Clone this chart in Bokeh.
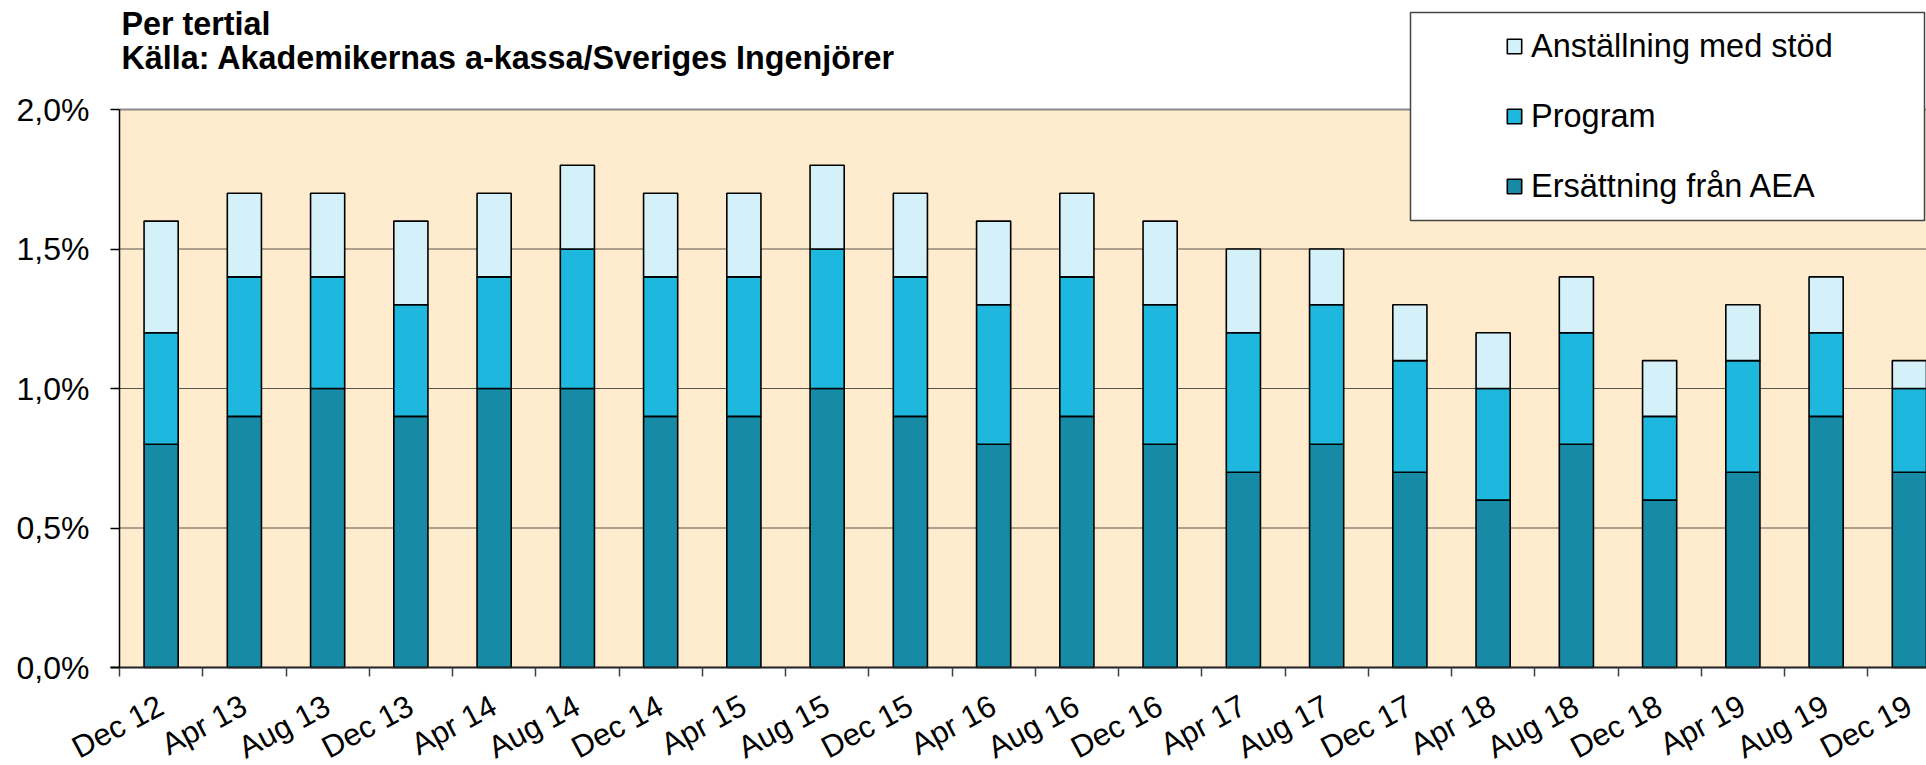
import math
from bokeh.plotting import figure
from bokeh.models import (ColumnDataSource, FixedTicker, CustomJSTickFormatter, Legend,
                          LegendItem, Range1d, Label, BoxAnnotation)
from bokeh.embed import file_html
from bokeh.resources import INLINE

# ---------------- data ----------------
periods = ["Dec 12", "Apr 13", "Aug 13", "Dec 13", "Apr 14", "Aug 14", "Dec 14",
           "Apr 15", "Aug 15", "Dec 15", "Apr 16", "Aug 16", "Dec 16", "Apr 17",
           "Aug 17", "Dec 17", "Apr 18", "Aug 18", "Dec 18", "Apr 19", "Aug 19", "Dec 19"]
aea = [0.8, 0.9, 1.0, 0.9, 1.0, 1.0, 0.9, 0.9, 1.0, 0.9, 0.8,
       0.9, 0.8, 0.7, 0.8, 0.7, 0.6, 0.8, 0.6, 0.7, 0.9, 0.7]
program = [0.4, 0.5, 0.4, 0.4, 0.4, 0.5, 0.5, 0.5, 0.5, 0.5, 0.5,
           0.5, 0.5, 0.5, 0.5, 0.4, 0.4, 0.4, 0.3, 0.4, 0.3, 0.3]
stod = [0.4, 0.3, 0.3, 0.3, 0.3, 0.3, 0.3, 0.3, 0.3, 0.3, 0.3,
        0.3, 0.3, 0.3, 0.2, 0.2, 0.2, 0.2, 0.2, 0.2, 0.2, 0.1]
series_names = ["Ersättning från AEA", "Program", "Anställning med stöd"]
y_ticks = [0.0, 0.5, 1.0, 1.5, 2.0]
title_lines = ["Per tertial", "Källa: Akademikernas a-kassa/Sveriges Ingenjörer"]

# ---------------- layout constants (canvas px) ----------------
W, H = 1926, 765
AREA_LEFT = 119           # canvas x of the plot-area left edge
ZERO_Y = 667              # canvas y of 0 %
CAT_PX = 83.25            # px per category
Y_PX = 279.0              # px per 1 %-unit
area_x0 = -0.5
x_start = area_x0 - AREA_LEFT / CAT_PX
x_end = area_x0 + (W - AREA_LEFT) / CAT_PX
y_end = ZERO_Y / Y_PX
y_start = -(H - ZERO_Y) / Y_PX


def px2x(px):
    return area_x0 + (px - AREA_LEFT) / CAT_PX


def px2y(py):
    return (ZERO_Y - py) / Y_PX


FONT = "Liberation Sans"
C_AEA = "#178BA6"
C_PROG = "#1EB8DE"
C_STOD = "#D4F0F8"
C_BG = "#FFEBCD"

src = ColumnDataSource(dict(x=list(range(len(periods))), label=periods,
                            aea=aea, program=program, stod=stod))

p = figure(width=W, height=H, output_backend="svg", toolbar_location=None,
           x_range=Range1d(x_start, x_end), y_range=Range1d(y_start, y_end),
           min_border_left=0, min_border_right=0, min_border_top=0,
           min_border_bottom=0)
p.outline_line_color = None
p.background_fill_color = "white"
p.border_fill_color = "white"
p.xgrid.visible = False
p.ygrid.visible = False

# plot area background (0 .. 2.0 %)
p.quad(left=[area_x0], right=[x_end + 1], bottom=[y_ticks[0]], top=[y_ticks[-1]],
       fill_color=C_BG, line_color=None)

# grid lines
inner = y_ticks[1:-1]
p.segment(x0=[area_x0] * len(inner), x1=[x_end + 1] * len(inner), y0=inner, y1=inner,
          line_color="#5a554c", line_width=1.2)
p.segment(x0=[area_x0], x1=[x_end + 1], y0=[y_ticks[-1]], y1=[y_ticks[-1]],
          line_color="#8a8a8a", line_width=2)

# stacked bars
rs = p.vbar_stack(["aea", "program", "stod"], x="x", width=0.41, source=src,
                  fill_color=[C_AEA, C_PROG, C_STOD], line_color="black", line_width=1.6)

# y axis (drawn at the plot-area left edge)
ya = p.yaxis[0]
ya.fixed_location = area_x0
ya.ticker = FixedTicker(ticks=y_ticks, minor_ticks=[])
ya.formatter = CustomJSTickFormatter(code="return tick.toFixed(1).replace('.', ',') + '%';")
ya.bounds = (y_ticks[0], y_ticks[-1])
ya.axis_line_color = "black"
ya.axis_line_width = 1.5
ya.major_tick_line_color = "black"
ya.major_tick_line_width = 1.5
ya.major_tick_out = 9
ya.major_tick_in = 0
ya.minor_tick_line_color = None
ya.major_label_standoff = 21
ya.major_label_text_font = FONT
ya.major_label_text_font_size = "32px"
ya.major_label_text_color = "black"

# x axis: drawn at 0 %, labels at category centres, tick marks at category boundaries
xa = p.xaxis[0]
xa.fixed_location = 0
xa.bounds = (px2x(110), x_end)
xa.ticker = FixedTicker(ticks=list(range(len(periods))),
                        minor_ticks=[i - 0.5 for i in range(len(periods) + 1)])
xa.major_label_overrides = {i: lab for i, lab in enumerate(periods)}
xa.major_label_orientation = math.radians(28)
xa.major_tick_line_color = None
xa.major_tick_out = 9
xa.major_tick_in = 0
xa.minor_tick_line_color = "#404040"
xa.minor_tick_line_width = 1.5
xa.minor_tick_out = 9
xa.minor_tick_in = 0
xa.axis_line_color = "#222222"
xa.axis_line_width = 2
xa.major_label_standoff = 27
xa.major_label_text_font = FONT
xa.major_label_text_font_size = "31px"
xa.major_label_text_color = "black"

# title lines
for txt, py in zip(title_lines, [23, 57]):
    p.add_layout(Label(x=px2x(121), y=px2y(py), text=txt, text_font=FONT,
                       text_font_size="32.3px", text_font_style="bold",
                       text_baseline="alphabetic", text_align="left", text_color="black"))

# legend box + legend
p.add_layout(BoxAnnotation(left=px2x(1410), right=px2x(1924), top=px2y(12), bottom=px2y(220),
                           fill_color="white", fill_alpha=1.0, line_color="#444444",
                           line_width=1.5, line_alpha=1.0))
legend = Legend(items=[LegendItem(label=series_names[2], renderers=[rs[2]]),
                       LegendItem(label=series_names[1], renderers=[rs[1]]),
                       LegendItem(label=series_names[0], renderers=[rs[0]])],
                location=(1505, H - 221),
                orientation="vertical", padding=0, margin=0, spacing=0,
                glyph_width=18, glyph_height=18, label_height=70, label_standoff=8,
                label_text_font=FONT, label_text_font_size="32.5px",
                label_text_color="black",
                border_line_color=None, background_fill_alpha=0.0)
p.add_layout(legend, "center")

open("out.html", "w").write(file_html(p, INLINE))
